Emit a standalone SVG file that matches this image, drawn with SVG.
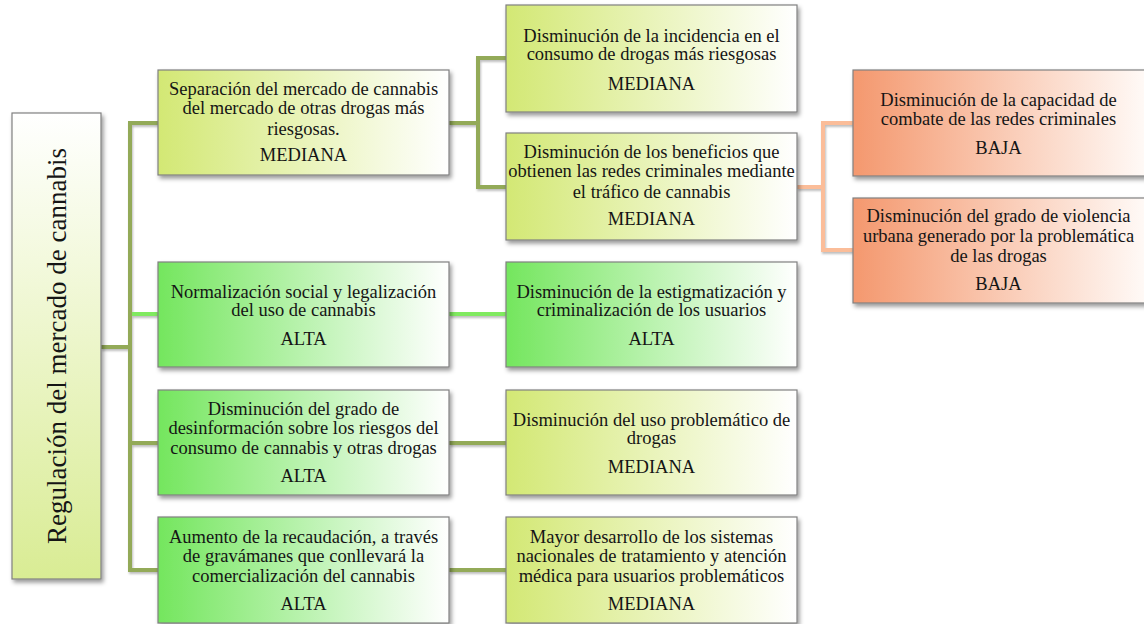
<svg xmlns="http://www.w3.org/2000/svg" width="1144" height="624" viewBox="0 0 1144 624">
<defs>
<linearGradient id="gMed" x1="0" y1="0" x2="1" y2="0"><stop offset="0" stop-color="#d3e874"/><stop offset="1" stop-color="#ffffff"/></linearGradient>
<linearGradient id="gAlta" x1="0" y1="0" x2="1" y2="0"><stop offset="0" stop-color="#74e65e"/><stop offset="1" stop-color="#ffffff"/></linearGradient>
<linearGradient id="gBaja" x1="0" y1="0" x2="1" y2="0"><stop offset="0" stop-color="#f4986e"/><stop offset="1" stop-color="#fffaf7"/></linearGradient>
<linearGradient id="gRoot" x1="0" y1="0" x2="0" y2="1"><stop offset="0" stop-color="#ffffff"/><stop offset="1" stop-color="#d9ec94"/></linearGradient>
<filter id="sh" x="-10%" y="-10%" width="125%" height="130%"><feDropShadow dx="2" dy="3" stdDeviation="2" flood-color="#000" flood-opacity="0.4"/></filter>
<filter id="lsh" x="-5%" y="-5%" width="110%" height="115%"><feDropShadow dx="1" dy="2" stdDeviation="1" flood-color="#000" flood-opacity="0.25"/></filter>
</defs>
<style>
.box{stroke:#808080;stroke-width:1.2}
.med{fill:url(#gMed)}
.alta{fill:url(#gAlta)}
.baja{fill:url(#gBaja)}
.root{fill:url(#gRoot)}
text{font-family:'Liberation Serif','Times New Roman',serif;fill:#151515;text-anchor:middle}
.t{font-size:18.5px}
.rt{font-size:27px}
.c{fill:none;stroke-width:4;stroke-linejoin:miter;stroke-linecap:butt}
.ol{stroke:#93aa58}
.gr{stroke:#80ea60}
.or{stroke:#fbbd99}
</style>
<g id="connectors" filter="url(#lsh)">
<path class="c gr" d="M130,314 H158"/>
<path class="c ol" d="M101,347 H130"/>
<path class="c ol" d="M158,123 H130 V570 H158"/>
<path class="c ol" d="M130,443 H158"/>
<path class="c ol" d="M449,123 H478"/>
<path class="c ol" d="M506,58 H478 V187 H506"/>
<path class="c gr" d="M449,314 H506"/>
<path class="c ol" d="M449,443 H506"/>
<path class="c ol" d="M449,570 H506"/>
<path class="c or" d="M797,187 H823"/>
<path class="c or" d="M853,123 H823 V250 H853"/>
</g>
<g id="root">
<rect class="box root" x="12" y="113" width="89" height="466" filter="url(#sh)"/>
<text class="rt" font-family="Liberation Serif, serif" transform="translate(66,346) rotate(-90)">Regulación del mercado de cannabis</text>
</g>
<g id="n1" font-family="Liberation Serif, serif">
<rect class="box med" x="158" y="70" width="291" height="105" filter="url(#sh)"/>
<text class="t" x="303.5" y="95">Separación del mercado de cannabis</text>
<text class="t" x="303.5" y="114">del mercado de otras drogas más</text>
<text class="t" x="303.5" y="135">riesgosas.</text>
<text class="t" x="303.5" y="161">MEDIANA</text>
</g>
<g id="n2" font-family="Liberation Serif, serif">
<rect class="box alta" x="158" y="262" width="291" height="105" filter="url(#sh)"/>
<text class="t" x="303.5" y="298">Normalización social y legalización</text>
<text class="t" x="303.5" y="316">del uso de cannabis</text>
<text class="t" x="303.5" y="345">ALTA</text>
</g>
<g id="n3" font-family="Liberation Serif, serif">
<rect class="box alta" x="158" y="390" width="291" height="105" filter="url(#sh)"/>
<text class="t" x="303.5" y="415">Disminución del grado de</text>
<text class="t" x="303.5" y="434">desinformación sobre los riesgos del</text>
<text class="t" x="303.5" y="454">consumo de cannabis y otras drogas</text>
<text class="t" x="303.5" y="482">ALTA</text>
</g>
<g id="n4" font-family="Liberation Serif, serif">
<rect class="box alta" x="158" y="517" width="291" height="106" filter="url(#sh)"/>
<text class="t" x="303.5" y="543">Aumento de la recaudación, a través</text>
<text class="t" x="303.5" y="562">de gravámanes que conllevará la</text>
<text class="t" x="303.5" y="582">comercialización del cannabis</text>
<text class="t" x="303.5" y="610">ALTA</text>
</g>
<g id="nA" font-family="Liberation Serif, serif">
<rect class="box med" x="506" y="5" width="291" height="107" filter="url(#sh)"/>
<text class="t" x="651.5" y="42">Disminución de la incidencia en el</text>
<text class="t" x="651.5" y="60">consumo de drogas más riesgosas</text>
<text class="t" x="651.5" y="90">MEDIANA</text>
</g>
<g id="nB" font-family="Liberation Serif, serif">
<rect class="box med" x="506" y="133" width="291" height="107" filter="url(#sh)"/>
<text class="t" x="651.5" y="158">Disminución de los beneficios que</text>
<text class="t" x="651.5" y="177">obtienen las redes criminales mediante</text>
<text class="t" x="651.5" y="198">el tráfico de cannabis</text>
<text class="t" x="651.5" y="225">MEDIANA</text>
</g>
<g id="nC" font-family="Liberation Serif, serif">
<rect class="box alta" x="506" y="262" width="291" height="105" filter="url(#sh)"/>
<text class="t" x="651.5" y="298">Disminución de la estigmatización y</text>
<text class="t" x="651.5" y="316">criminalización de los usuarios</text>
<text class="t" x="651.5" y="345">ALTA</text>
</g>
<g id="nD" font-family="Liberation Serif, serif">
<rect class="box med" x="506" y="390" width="291" height="105" filter="url(#sh)"/>
<text class="t" x="651.5" y="426">Disminución del uso problemático de</text>
<text class="t" x="651.5" y="444">drogas</text>
<text class="t" x="651.5" y="473">MEDIANA</text>
</g>
<g id="nE" font-family="Liberation Serif, serif">
<rect class="box med" x="506" y="517" width="291" height="106" filter="url(#sh)"/>
<text class="t" x="651.5" y="543">Mayor desarrollo de los sistemas</text>
<text class="t" x="651.5" y="562">nacionales de tratamiento y atención</text>
<text class="t" x="651.5" y="582">médica para usuarios problemáticos</text>
<text class="t" x="651.5" y="610">MEDIANA</text>
</g>
<g id="nF" font-family="Liberation Serif, serif">
<rect class="box baja" x="853" y="70" width="293" height="106" filter="url(#sh)"/>
<text class="t" x="998.5" y="106">Disminución de la capacidad de</text>
<text class="t" x="998.5" y="125">combate de las redes criminales</text>
<text class="t" x="998.5" y="154">BAJA</text>
</g>
<g id="nG" font-family="Liberation Serif, serif">
<rect class="box baja" x="853" y="198" width="293" height="105" filter="url(#sh)"/>
<text class="t" x="998.5" y="222">Disminución del grado de violencia</text>
<text class="t" x="998.5" y="242">urbana generado por la problemática</text>
<text class="t" x="998.5" y="262">de las drogas</text>
<text class="t" x="998.5" y="290">BAJA</text>
</g>
</svg>
